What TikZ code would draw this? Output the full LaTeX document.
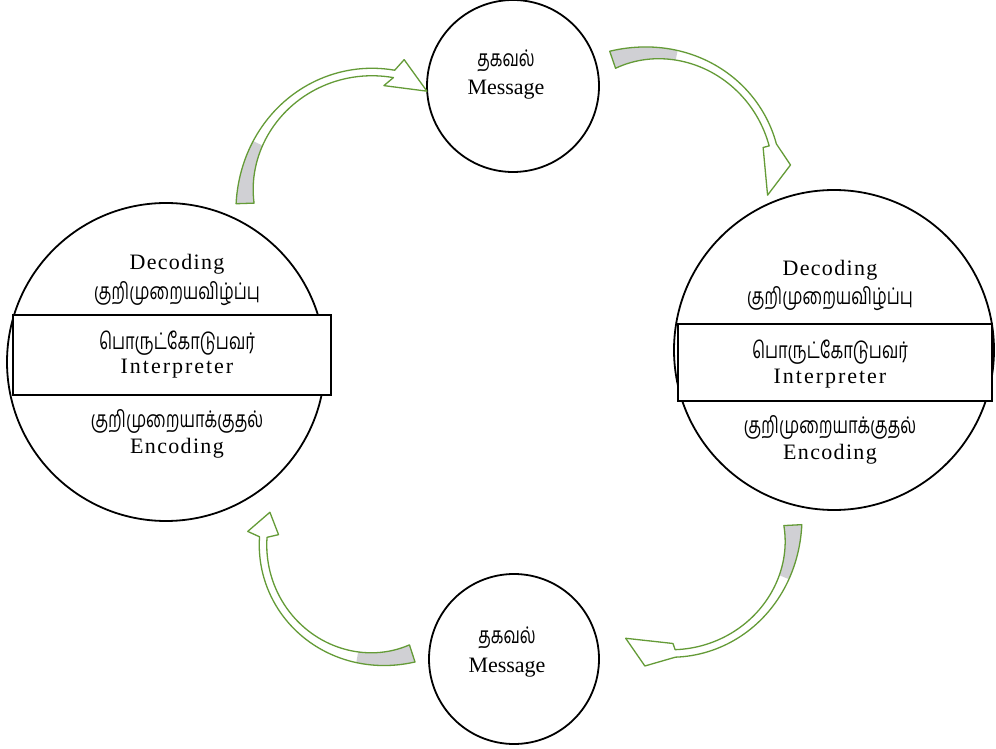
\documentclass[tikz,border=0pt]{standalone}
\usepackage{fontspec}
\setmainfont{Liberation Serif}
\newfontfamily\tamil[Script=Tamil]{Hind Madurai}
\newfontfamily\latsp[LetterSpace=6]{Liberation Serif}
\newfontfamily\latspw[LetterSpace=9]{Liberation Serif}
\definecolor{arrowgreen}{RGB}{100,155,55}
\definecolor{arrowgray}{RGB}{208,208,212}
\def\wA{18}
\def\wB{7.5}
\newcommand{\tm}[1]{\scalebox{0.97}[1.35]{#1}}
\newcommand{\bw}[3]{(\wB+(\wA-\wB)*(1-(#1-(#2))/((#3)-(#2)))*(1-(#1-(#2))/((#3)-(#2)))*(1-(#1-(#2))/((#3)-(#2)))*(1-(#1-(#2))/((#3)-(#2))))}
% #1 cx #2 cy #3 R #4 tail angle #5 head angle #6 gray end #7 outer barb #8 tip #9 inner barb
\newcommand{\cvarrow}[9]{%
\begin{scope}[shift={(#1,#2)}]
 \fill[arrowgray] plot[domain=#4:#6, samples=30, variable=\t] (\t:{#3+0.5*\bw{\t}{#4}{#5}})
   -- plot[domain=#6:#4, samples=30, variable=\t] (\t:{#3-0.5*\bw{\t}{#4}{#5}}) -- cycle;
 \draw[arrowline] plot[domain=#4:#5, samples=50, variable=\t] (\t:{#3+0.5*\bw{\t}{#4}{#5}})
   -- (#7) -- (#8) -- (#9)
   -- plot[domain=#5:#4, samples=50, variable=\t] (\t:{#3-0.5*\bw{\t}{#4}{#5}}) -- cycle;
\end{scope}}
\begin{document}
\begin{tikzpicture}[x=1pt,y=1pt,
  ring/.style={draw=black, line width=1.8pt, circle, inner sep=0pt, fill=white},
  box/.style={draw=black, fill=white, inner sep=0pt},
  lat/.style={font=\fontsize{22}{26}\selectfont, inner sep=0pt},
  latw/.style={font=\latsp\fontsize{22}{26}\selectfont, inner sep=0pt},
  latww/.style={font=\latspw\fontsize{22}{26}\selectfont, inner sep=0pt},
  tam/.style={font=\tamil\fontsize{17}{20}\selectfont, inner sep=0pt},
  arrowline/.style={draw=arrowgreen, line width=1.3pt, line join=round}]
\useasboundingbox (0,0) rectangle (996,748);
\fill[white] (0,0) rectangle (996,748);
% circles
\node[ring, minimum size=172pt] (msgT) at (513,662) {};
\node[ring, minimum size=170pt] (msgB) at (514,89) {};
\node[ring, minimum size=318pt] (left) at (166,386) {};
\node[ring, minimum size=320pt] (right) at (834,398) {};
% boxes
\draw[box, line width=1.3pt] (13,353) rectangle (331,433);
\draw[box, line width=2.2pt] (678,347) rectangle (992,424);
% message texts
\node[tam] (msgTt) at (506,687) {\tm{தகவல்}};
\node[lat] (msgTe) at (506,658) {Message};
\node[tam] (msgBt) at (507,110) {\tm{தகவல்}};
\node[lat] (msgBe) at (507,80) {Message};
% left texts
\node[latw] (ldec) at (177,484) {Decoding};
\node[tam] (ldect) at (177,454) {\tm{குறிமுறையவிழ்ப்பு}};
\node[tam] (lint) at (177,405) {\tm{பொருட்கோடுபவர்}};
\node[latww] (linte) at (177,379) {Interpreter};
\node[tam] (lenct) at (177,327) {\tm{குறிமுறையாக்குதல்}};
\node[latw] (lenc) at (177,300) {Encoding};
% right texts
\node[latw] (rdec) at (830,478) {Decoding};
\node[tam] (rdect) at (830,449) {\tm{குறிமுறையவிழ்ப்பு}};
\node[tam] (rint) at (830,396) {\tm{பொருட்கோடுபவர்}};
\node[latww] (rinte) at (830,369) {Interpreter};
\node[tam] (renct) at (830,321) {\tm{குறிமுறையாக்குதல்}};
\node[latw] (renc) at (830,294) {Encoding};
% curved arrows
\cvarrow{372}{549}{127}{182}{80}{154}{77:143}{63:121}{84:114}
\cvarrow{653}{571}{124}{109}{15}{79}{5:138}{-9:116}{15:114}
\cvarrow{671}{216.5}{122}{3}{-88}{-22}{-101:137}{-113:116}{-89:112}
\cvarrow{377}{203}{114}{-72}{-184}{-100}{-186:130}{-197:112}{-186:99}
\end{tikzpicture}
\end{document}
